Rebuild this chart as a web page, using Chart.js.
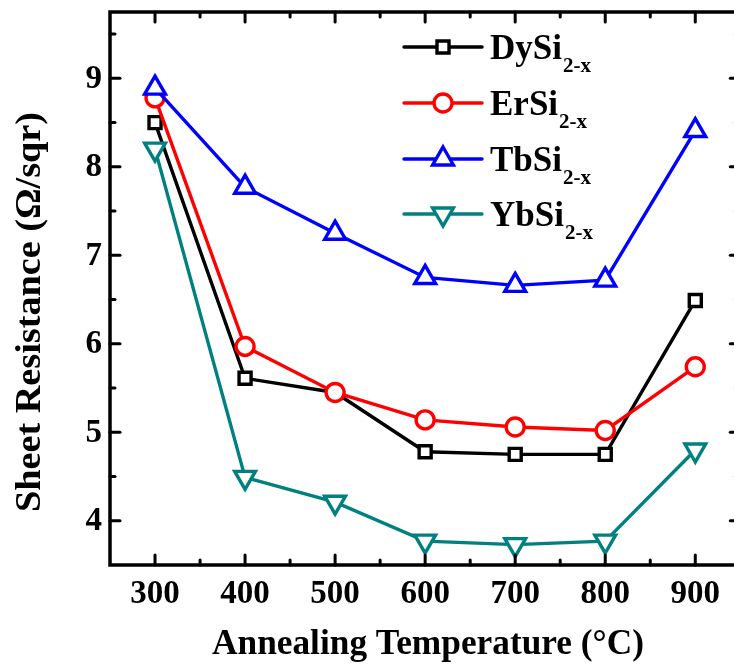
<!DOCTYPE html>
<html><head><meta charset="utf-8">
<script src="https://cdn.jsdelivr.net/npm/chart.js@4"></script>
<style>html,body{margin:0;padding:0;background:#fff;overflow:hidden;width:734px;height:667px}canvas{display:block}</style>
</head><body>
<canvas id="c" width="734" height="667"></canvas>
<script>
const temperatures = [300, 400, 500, 600, 700, 800, 900];
const dySi = [8.50, 5.61, 5.45, 4.78, 4.75, 4.75, 6.49];
const erSi = [8.78, 5.97, 5.45, 5.14, 5.06, 5.02, 5.74];
const tbSi = [8.89, 7.77, 7.25, 6.75, 6.66, 6.72, 8.41];
const ybSi = [8.20, 4.49, 4.21, 3.77, 3.73, 3.77, 4.80];
const xTickValues = [300, 400, 500, 600, 700, 800, 900];
const xMinorValues = [350, 450, 550, 650, 750, 850];
const yTickValues = [4, 5, 6, 7, 8, 9];
const yMinorValues = [4.5, 5.5, 6.5, 7.5, 8.5, 9.5];
const seriesNames = ['DySi', 'ErSi', 'TbSi', 'YbSi'];
const seriesSub = '2-x';
const xFrameEnd = 950;

const FONT = '"Liberation Serif","Times New Roman",serif';
function pts(arr){ return temperatures.map((t,i)=>({x:t,y:arr[i]})); }
function ds(label, data, color, style, radius, rotation, order){
  return {label, data: pts(data), borderColor: color, backgroundColor: '#fff',
    borderWidth: 3.4, pointStyle: style, pointRadius: radius, pointHoverRadius: radius,
    pointBorderWidth: 3.4, pointBorderColor: color, pointBackgroundColor: '#fff',
    pointRotation: rotation, tension: 0, order, clip: false};
}
const datasets = [
  ds(seriesNames[0], dySi, '#000000', 'rect', 8.5, 0, 4),
  ds(seriesNames[1], erSi, '#ff0000', 'circle', 9, 0, 3),
  ds(seriesNames[2], tbSi, '#0000ff', 'triangle', 12, 0, 1),
  ds(seriesNames[3], ybSi, '#008080', 'triangle', 12, 180, 2)
];

function fitText(ctx, text, x, y, targetWidth, rot){
  const w = ctx.measureText(text).width;
  ctx.save();
  ctx.translate(x, y);
  if (rot) ctx.rotate(rot);
  ctx.scale(targetWidth / w, 1);
  ctx.fillText(text, 0, 0);
  ctx.restore();
}

const framePlugin = {
  id: 'frame',
  afterDraw(chart){
    const ctx = chart.ctx, a = chart.chartArea;
    const xs = chart.scales.x, ys = chart.scales.y;
    const right = xs.getPixelForValue(xFrameEnd);
    ctx.save();
    ctx.strokeStyle = '#000'; ctx.lineWidth = 3.5; ctx.lineCap = 'butt';
    ctx.strokeRect(a.left, a.top, right - a.left, a.bottom - a.top);
    ctx.lineCap = 'round'; ctx.lineWidth = 3;
    const tick = (x1,y1,x2,y2)=>{ctx.beginPath();ctx.moveTo(x1,y1);ctx.lineTo(x2,y2);ctx.stroke();};
    xTickValues.forEach(v=>{const p=xs.getPixelForValue(v); tick(p,a.bottom,p,a.bottom-10); tick(p,a.top,p,a.top+10);});
    xMinorValues.forEach(v=>{const p=xs.getPixelForValue(v); tick(p,a.bottom,p,a.bottom-5); tick(p,a.top,p,a.top+5);});
    yTickValues.forEach(v=>{const p=ys.getPixelForValue(v); tick(a.left,p,a.left+10,p); tick(right,p,right-10,p);});
    yMinorValues.forEach(v=>{const p=ys.getPixelForValue(v); tick(a.left,p,a.left+5,p); tick(right,p,right-5,p);});
    // tick labels
    ctx.fillStyle = '#000';
    ctx.font = 'bold 33px ' + FONT;
    ctx.textAlign = 'center'; ctx.textBaseline = 'middle';
    xTickValues.forEach(v=>{ ctx.fillText(String(v), xs.getPixelForValue(v), a.bottom + 29); });
    ctx.textAlign = 'right';
    yTickValues.forEach(v=>{ ctx.fillText(String(v), a.left - 8, ys.getPixelForValue(v) + 1); });
    // axis titles
    ctx.font = 'bold 35px ' + FONT;
    ctx.textAlign = 'center'; ctx.textBaseline = 'middle';
    fitText(ctx, 'Annealing Temperature (°C)', 428, 645, 432, 0);
    fitText(ctx, 'Sheet Resistance (Ω/sqr)', 31, 312, 400, -Math.PI/2);
    // legend
    const rows = [47, 103, 159, 214];
    chart.data.datasets.forEach((d,i)=>{
      const y = rows[i];
      ctx.strokeStyle = d.borderColor; ctx.lineWidth = 3.4; ctx.lineCap = 'round';
      tick(404, y, 482, y);
      ctx.fillStyle = '#fff';
      Chart.helpers.drawPoint(ctx, {pointStyle: d.pointStyle, radius: d.pointRadius, rotation: d.pointRotation, borderWidth: 3.4}, 443, y);
      ctx.fillStyle = '#000';
      ctx.textAlign = 'left'; ctx.textBaseline = 'alphabetic';
      ctx.font = 'bold 35px ' + FONT;
      ctx.fillText(d.label, 490, y + 12);
      const w = ctx.measureText(d.label).width;
      ctx.font = 'bold 21px ' + FONT;
      ctx.fillText(seriesSub, 490 + w + 1, y + 25);
    });
    ctx.restore();
  }
};

new Chart(document.getElementById('c'), {
  type: 'line',
  data: { datasets },
  options: {
    responsive: false, animation: false, devicePixelRatio: 1,
    layout: { autoPadding: false, padding: { top: 12, right: 0, left: 0, bottom: 0 } },
    plugins: { legend: { display: false }, tooltip: { enabled: false } },
    scales: {
      x: { type: 'linear', min: 250, max: 943,
        afterBuildTicks: s => { s.ticks = xTickValues.map(v=>({value:v})); },
        afterFit: s => { s.height = 102; },
        grid: { display: false, drawTicks: false }, border: { display: false },
        ticks: { display: false } },
      y: { type: 'linear', min: 3.5, max: 9.75,
        afterBuildTicks: s => { s.ticks = yTickValues.map(v=>({value:v})); },
        afterFit: s => { s.width = 110; },
        grid: { display: false, drawTicks: false }, border: { display: false },
        ticks: { display: false } }
    }
  },
  plugins: [framePlugin]
});
</script>
</body></html>
